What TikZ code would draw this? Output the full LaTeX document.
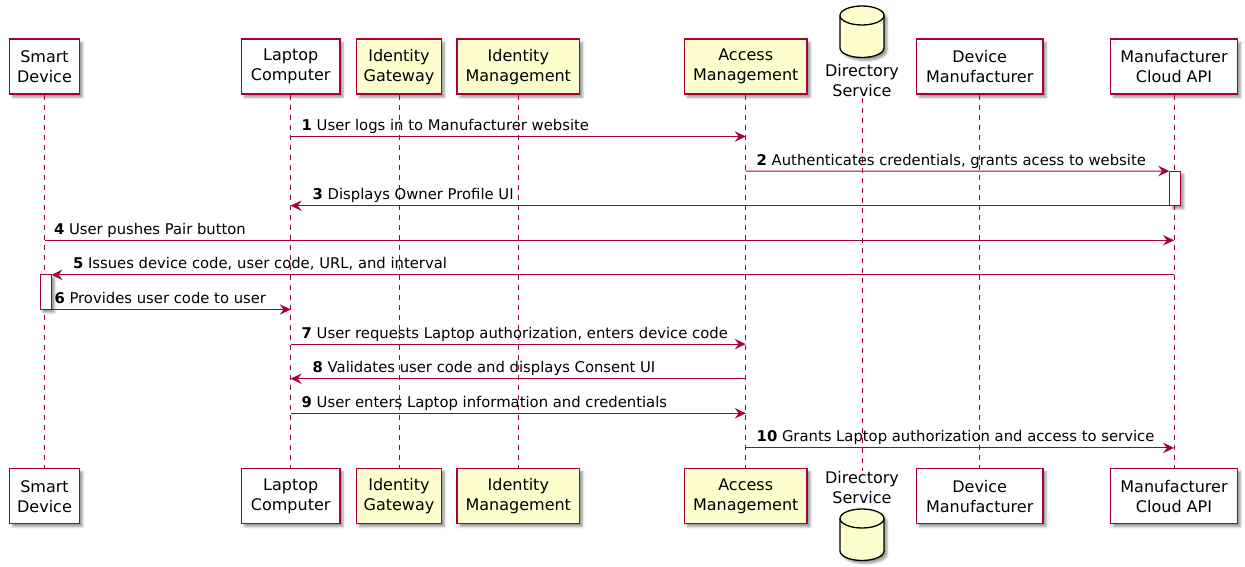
\documentclass[tikz,border=0pt]{standalone}
\usepackage{fontspec}
\setmainfont{DejaVu Sans}
\usetikzlibrary{arrows.meta,shadows.blur}
\definecolor{umlred}{HTML}{A80036}
\definecolor{umlyellow}{HTML}{FEFECE}
\tikzset{
	shade/.style={blur shadow={shadow xshift=3pt,shadow yshift=-3pt,shadow blur steps=4,shadow opacity=40}},
	part/.style={draw=umlred,line width=1.5pt,fill=white,align=center,minimum height=55pt,inner xsep=2pt,font=\fontsize{16}{20}\selectfont,shade},
	ypart/.style={part,fill=umlyellow},
	dblabel/.style={align=center,inner sep=1pt,font=\fontsize{16}{20}\selectfont},
	life/.style={umlred,line width=0.9pt,dash pattern=on 5pt off 5pt},
	msg/.style={umlred,line width=1pt,-{Stealth[length=11pt,width=10.5pt,inset=4pt]}},
	lbl/.style={anchor=base west,inner sep=0pt,text=black,font=\fontsize{14.8}{17}\selectfont},
	actbar/.style={draw=umlred,line width=1pt,fill=white,minimum width=11.5pt,minimum height=34.6pt,inner sep=0pt,outer sep=0pt,shade},
	db/.style={draw=black,line width=1.3pt,fill=umlyellow},
}
\newcommand{\dbcyl}[2]{% centre x, top y
	\draw[db,shade] (#1-22,#2+9.5) -- (#1-22,#2+42) arc[start angle=180,end angle=360,x radius=22pt,y radius=9.5pt]
	-- (#1+22,#2+9.5) arc[start angle=0,end angle=180,x radius=22pt,y radius=9.5pt] -- cycle;
	\draw[db,fill=none] (#1-22,#2+9.5) arc[start angle=180,end angle=360,x radius=22pt,y radius=9.5pt];
}
\begin{document}
\begin{tikzpicture}[x=1pt,y=-1pt]
	\useasboundingbox (0,0) rectangle (1245,567);
	% participants, top row
	\node[part,minimum width=70pt] (sdT) at (44.5,66.7) {Smart\\Device};
	\node[part,minimum width=98.6pt] (lcT) at (290.7,66.7) {Laptop\\Computer};
	\node[ypart,minimum width=84.7pt] (igT) at (399,66.7) {Identity\\Gateway};
	\node[ypart,minimum width=122.6pt] (imT) at (518.3,66.7) {Identity\\Management};
	\node[ypart,minimum width=122.7pt] (amT) at (745.7,66.7) {Access\\Management};
	\dbcyl{862}{6}
	\node[dblabel] (dsT) at (862,81) {Directory\\Service};
	\node[part,minimum width=126.7pt] (dmT) at (979.7,66.7) {Device\\Manufacturer};
	\node[part,minimum width=126.7pt] (mcT) at (1174,66.7) {Manufacturer\\Cloud API};
	% participants, bottom row
	\node[part,minimum width=70pt] (sdB) at (44.5,496.2) {Smart\\Device};
	\node[part,minimum width=98.6pt] (lcB) at (290.7,496.2) {Laptop\\Computer};
	\node[ypart,minimum width=84.7pt] (igB) at (399,496.2) {Identity\\Gateway};
	\node[ypart,minimum width=122.6pt] (imB) at (518.3,496.2) {Identity\\Management};
	\node[ypart,minimum width=122.7pt] (amB) at (745.7,496.2) {Access\\Management};
	\node[dblabel] (dsB) at (862,488) {Directory\\Service};
	\dbcyl{862}{509}
	\node[part,minimum width=126.7pt] (dmB) at (979.7,496.2) {Device\\Manufacturer};
	\node[part,minimum width=126.7pt] (mcB) at (1174,496.2) {Manufacturer\\Cloud API};
	% lifelines
	\foreach \p in {sd,lc,ig,im,am,ds,dm,mc}
		\draw[life] (\p T.south) -- (\p B.north);
	% message rows
	\foreach \i [count=\n] in {136.5,171.1,205.7,240.3,274.9,309.5,344.1,378.7,413.3,447.9}
		\coordinate (m\n) at (0,\i);
	% activations
	\node[actbar] (mcBar) at (1175,188.4) {};
	\node[actbar] (sdBar) at (45.8,292.2) {};
	% messages
	\draw[msg] (lcT |- m1) -- (amT |- m1)
		node[lbl,at start,xshift=10.5pt,yshift=6pt] (l1) {\textbf{1} User logs in to Manufacturer website};
	\draw[msg] (amT |- m2) -- (mcBar.north west)
		node[lbl,at start,xshift=10.5pt,yshift=6pt] (l2) {\textbf{2} Authenticates credentials, grants acess to website};
	\draw[msg] (mcBar.south west) -- (lcT |- m3)
		node[lbl,at end,xshift=21.5pt,yshift=6pt] (l3) {\textbf{3} Displays Owner Profile UI};
	\draw[msg] (sdT |- m4) -- (mcT |- m4)
		node[lbl,at start,xshift=9pt,yshift=6pt] (l4) {\textbf{4} User pushes Pair button};
	\draw[msg] (mcT |- m5) -- (sdBar.north east)
		node[lbl,at end,xshift=21pt,yshift=6pt] (l5) {\textbf{5} Issues device code, user code, URL, and interval};
	\draw[msg] (sdBar.south east) -- (lcT |- m6)
		node[lbl,at start,xshift=2.5pt,yshift=6pt] (l6) {\textbf{6} Provides user code to user};
	\draw[msg] (lcT |- m7) -- (amT |- m7)
		node[lbl,at start,xshift=10.5pt,yshift=6pt] (l7) {\textbf{7} User requests Laptop authorization, enters device code};
	\draw[msg] (amT |- m8) -- (lcT |- m8)
		node[lbl,at end,xshift=21.5pt,yshift=6pt] (l8) {\textbf{8} Validates user code and displays Consent UI};
	\draw[msg] (lcT |- m9) -- (amT |- m9)
		node[lbl,at start,xshift=10.5pt,yshift=6pt] (l9) {\textbf{9} User enters Laptop information and credentials};
	\draw[msg] (amT |- m10) -- (mcT |- m10)
		node[lbl,at start,xshift=10.5pt,yshift=6pt] (l10) {\textbf{10} Grants Laptop authorization and access to service};
\end{tikzpicture}
\end{document}
